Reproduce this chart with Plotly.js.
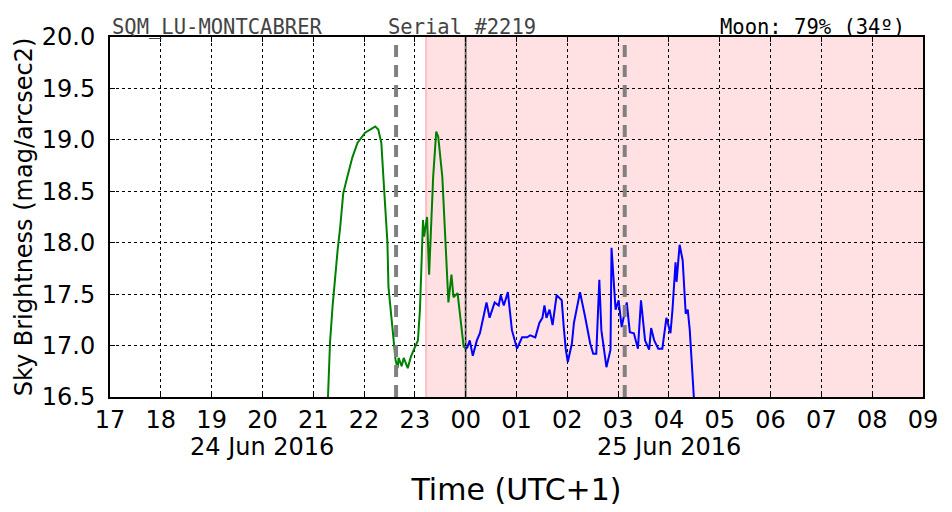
<!DOCTYPE html>
<html>
<head>
<meta charset="utf-8">
<script src="https://cdn.plot.ly/plotly-3.0.1.min.js"></script>
<style>
  body { margin: 0; background: #fff; }
  #chart { width: 952px; height: 512px; }
</style>
</head>
<body>
<div id="chart"></div>
<script>
// hours counted from 24 Jun 00:00 (24 = midnight of 25 Jun)
var twilightHours = [21.29, 21.33, 21.38, 21.43, 21.48, 21.53, 21.59, 21.67, 21.77, 21.87, 22.02, 22.12, 22.22, 22.28, 22.34,
  22.38, 22.46, 22.48, 22.56, 22.62, 22.66, 22.68, 22.74, 22.78, 22.86, 22.92, 22.98, 23.06, 23.10, 23.16, 23.18, 23.24,
  23.28, 23.36, 23.42, 23.46, 23.54, 23.60, 23.66, 23.72, 23.76, 23.84, 23.90, 23.96, 24.0];
var twilightMag = [16.5, 17.03, 17.38, 17.67, 17.93, 18.15, 18.48, 18.64, 18.83, 18.97, 19.07, 19.10, 19.13, 19.10, 18.97,
  18.64, 18.0, 17.57, 17.18, 16.86, 16.78, 16.88, 16.80, 16.88, 16.78, 16.89, 16.96, 17.05, 17.35, 18.22, 18.06, 18.25,
  17.69, 18.64, 19.08, 19.03, 18.64, 18.0, 17.42, 17.69, 17.47, 17.51, 17.22, 16.99, 16.97];

var nightHours = [24.0, 24.03, 24.08, 24.14, 24.22, 24.28, 24.35, 24.41, 24.47, 24.57, 24.65, 24.69, 24.75, 24.83, 24.91,
  25.01, 25.11, 25.21, 25.27, 25.37, 25.45, 25.51, 25.55, 25.59, 25.65, 25.71, 25.79, 25.89, 25.93, 25.97, 26.01, 26.09,
  26.13, 26.19, 26.25, 26.35, 26.45, 26.51, 26.57, 26.63, 26.67, 26.77, 26.85, 26.87, 26.95, 27.01, 27.07, 27.17, 27.23,
  27.31, 27.39, 27.45, 27.53, 27.61, 27.65, 27.71, 27.79, 27.87, 27.95, 28.03, 28.07, 28.13, 28.15, 28.21, 28.27, 28.33,
  28.37, 28.41, 28.49];
var nightMag = [16.97, 16.98, 17.05, 16.90, 17.05, 17.12, 17.28, 17.42, 17.27, 17.42, 17.39, 17.49, 17.39, 17.52, 17.15,
  16.97, 17.08, 17.08, 17.10, 17.08, 17.22, 17.27, 17.39, 17.27, 17.35, 17.20, 17.49, 17.44, 17.18, 16.96, 16.84, 17.02,
  17.22, 17.37, 17.52, 17.28, 17.02, 16.92, 16.92, 17.64, 17.15, 16.79, 16.96, 17.95, 17.35, 17.44, 17.18, 17.42, 17.13,
  17.12, 16.97, 17.44, 17.05, 16.96, 17.17, 17.05, 16.97, 16.97, 17.27, 17.12, 17.35, 17.81, 17.62, 17.98, 17.83, 17.31,
  17.35, 17.15, 16.5];

var tickHours = [17, 18, 19, 20, 21, 22, 23, 24, 25, 26, 27, 28, 29, 30, 31, 32, 33];
var tickLabels = ['17', '18', '19', '20', '21', '22', '23', '00', '01', '02', '03', '04', '05', '06', '07', '08', '09'];

var nightStart = 23.22;   // shaded astronomical night
var nightEnd = 33;
var markerHours = [22.63, 27.13];  // dashed gray markers
var midnight = 24;

var trace1 = {
  x: twilightHours,
  y: twilightMag,
  mode: 'lines',
  type: 'scatter',
  line: { color: 'green', width: 2 },
  hoverinfo: 'x+y',
};
var trace2 = {
  x: nightHours,
  y: nightMag,
  mode: 'lines',
  type: 'scatter',
  line: { color: 'blue', width: 2 },
  hoverinfo: 'x+y',
};

var shapes = [{
  type: 'rect', xref: 'x', yref: 'paper', x0: nightStart, x1: nightEnd, y0: 0, y1: 1,
  fillcolor: 'rgb(255,225,228)', line: { width: 0 }, layer: 'below',
}, {
  type: 'line', xref: 'x', yref: 'paper', x0: nightStart, x1: nightStart, y0: 0, y1: 1,
  line: { color: 'rgb(255,190,195)', width: 2 }, layer: 'below',
}, {
  type: 'line', xref: 'x', yref: 'paper', x0: midnight, x1: midnight, y0: 0, y1: 1,
  line: { color: 'rgb(110,110,110)', width: 2 }, layer: 'below',
}];
markerHours.forEach(function (h) {
  shapes.push({
    type: 'line', xref: 'x', yref: 'paper', x0: h, x1: h, y0: 0, y1: 1,
    line: { color: 'rgb(128,128,128)', width: 4, dash: '12px,8px' },
  });
});

var mono = { family: 'DejaVu Sans Mono', size: 20.5, color: '#444' };
var layout = {
  width: 952,
  height: 512,
  margin: { l: 110, r: 29, t: 37, b: 115 },
  paper_bgcolor: '#fff',
  plot_bgcolor: 'rgba(0,0,0,0)',
  showlegend: false,
  font: { family: 'DejaVu Sans', size: 24, color: '#000' },
  xaxis: {
    range: [17, 33],
    tickvals: tickHours,
    ticktext: tickLabels,
    ticks: 'inside', ticklen: 5, tickcolor: '#000', mirror: 'allticks',
    showline: true, linecolor: '#000', linewidth: 2,
    showgrid: true, gridcolor: '#000', griddash: 'dot', gridwidth: 1,
    zeroline: false,
    tickfont: { size: 24 },
    ticklabelstandoff: 0,
    title: { text: 'Time (UTC+1)', font: { size: 30 }, standoff: 46 },
  },
  yaxis: {
    range: [16.5, 20.0],
    dtick: 0.5,
    tickformat: '.1f',
    ticks: 'inside', ticklen: 5, tickcolor: '#000', mirror: 'allticks',
    showline: true, linecolor: '#000', linewidth: 2,
    showgrid: true, gridcolor: '#000', griddash: 'dot', gridwidth: 1,
    zeroline: false,
    tickfont: { size: 24 },
    ticklabelstandoff: 8,
    title: { text: 'Sky Brightness (mag/arcsec2)', font: { size: 24 }, standoff: 2 },
  },
  shapes: shapes,
  annotations: [
    { text: '24 Jun 2016', xref: 'x', yref: 'paper', x: 20, y: 0, yanchor: 'middle', yshift: -50, showarrow: false, font: { size: 24 } },
    { text: '25 Jun 2016', xref: 'x', yref: 'paper', x: 28, y: 0, yanchor: 'middle', yshift: -50, showarrow: false, font: { size: 24 } },
    { text: 'SQM_LU-MONTCABRER', xref: 'paper', yref: 'paper', x: 0, y: 1, xanchor: 'left', yanchor: 'bottom',
      showarrow: false, font: mono, yshift: -4 },
    { text: 'Serial #2219', xref: 'paper', yref: 'paper', x: 0.339, y: 1, xanchor: 'left', yanchor: 'bottom',
      showarrow: false, font: mono, yshift: -4 },
    { text: 'Moon: 79% (34º)', xref: 'paper', yref: 'paper', x: 0.98, y: 1, xanchor: 'right', yanchor: 'bottom',
      showarrow: false, font: { family: 'DejaVu Sans Mono', size: 20.5, color: '#000' }, yshift: -4 },
  ],
};

Plotly.newPlot('chart', [trace1, trace2], layout, { displayModeBar: false, staticPlot: true });
</script>
</body>
</html>
